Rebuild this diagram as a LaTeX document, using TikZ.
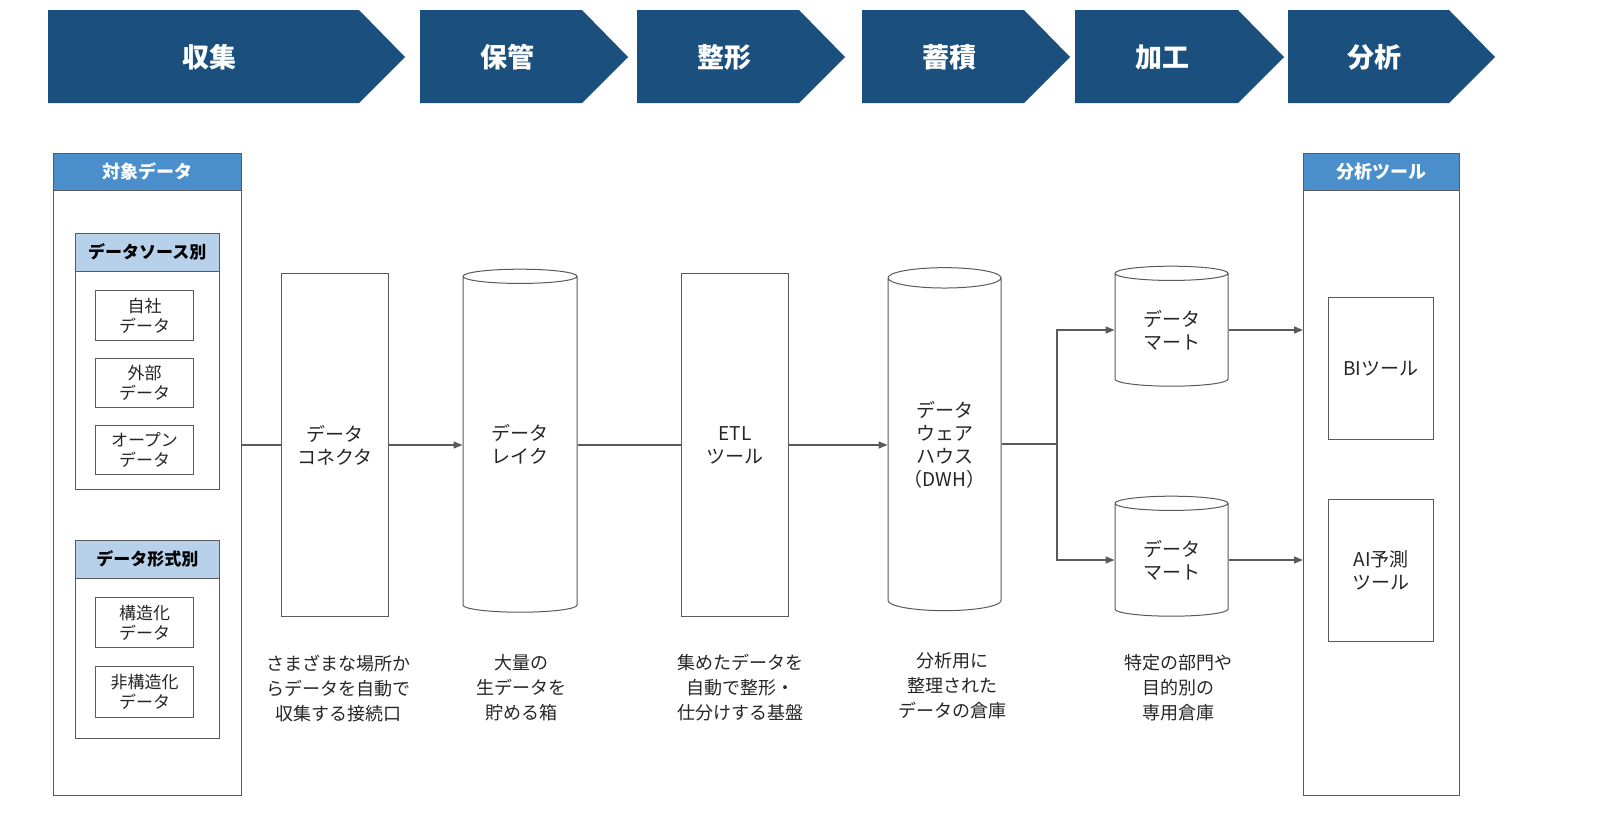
\documentclass[tikz,border=0pt]{standalone}
\usepackage{fontspec}
\setmainfont{Noto Sans CJK JP}
\usetikzlibrary{shapes.geometric,arrows.meta}
\definecolor{navy}{HTML}{1B4F7E}
\definecolor{hdr}{HTML}{4A8FCB}
\definecolor{sub}{HTML}{B7D1EA}
\definecolor{ln}{HTML}{5A5A5A}
\begin{document}
\begin{tikzpicture}[x=1pt,y=-1pt,
 chev/.style={fill=navy,draw=none},
 ctext/.style={text=white,font=\fontsize{27}{27}\selectfont\bfseries},
 box/.style={draw=ln,line width=1pt,fill=white},
 lbl/.style={font=\fontsize{19}{23}\selectfont,align=center,text=black!85},
 small/.style={font=\fontsize{17}{20}\selectfont,align=center,text=black!85},
 captxt/.style={font=\fontsize{18}{25}\selectfont,align=center,text=black!85},
 arr/.style={draw=ln,line width=1.5pt,-{Triangle[length=9pt,width=7pt]}},
 lin/.style={draw=ln,line width=1.5pt}]
\useasboundingbox (0,0) rectangle (1600,830);
\fill[white] (0,0) rectangle (1600,830);
% chevrons
\foreach \a/\b/\t/\n in {48/405/収集/c1,420/628/保管/c2,637/845/整形/c3,862/1070/蓄積/c4,1075/1284/加工/c5,1288/1495/分析/c6}{
 \fill[chev] (\a,10) -- ({\b-46},10) -- (\b,57) -- ({\b-46},103) -- (\a,103) -- cycle;
 \node[ctext] (\n) at ({(\a+\b-46)/2+6},57) {\t};
}
% left panel
\node[box,minimum width=188,minimum height=605,anchor=north west,inner sep=0] (lp) at (53,190) {};
\node[fill=hdr,draw=ln,line width=0.6pt,minimum width=188,minimum height=37,anchor=north west,inner sep=0,text=white,font=\fontsize{18}{18}\selectfont\bfseries] (lh) at (53,153) {対象データ};
\node[fill=sub,draw=ln,line width=0.6pt,minimum width=144,minimum height=38,anchor=north west,inner sep=0,font=\fontsize{17}{17}\selectfont\bfseries] (s1h) at (75,233) {データソース別};
\node[box,minimum width=144,minimum height=218,anchor=north west,inner sep=0] (s1) at (75,271) {};
\node[box,small,minimum width=98,minimum height=50,anchor=north west,inner sep=0] (b1) at (95,290) {自社\\データ};
\node[box,small,minimum width=98,minimum height=49,anchor=north west,inner sep=0] (b2) at (95,358) {外部\\データ};
\node[box,small,minimum width=98,minimum height=49,anchor=north west,inner sep=0] (b3) at (95,425) {オープン\\データ};
\node[fill=sub,draw=ln,line width=0.6pt,minimum width=144,minimum height=38,anchor=north west,inner sep=0,font=\fontsize{17}{17}\selectfont\bfseries] (s2h) at (75,540) {データ形式別};
\node[box,minimum width=144,minimum height=160,anchor=north west,inner sep=0] (s2) at (75,578) {};
\node[box,small,minimum width=98,minimum height=50,anchor=north west,inner sep=0] (b4) at (95,597) {構造化\\データ};
\node[box,small,minimum width=98,minimum height=51,anchor=north west,inner sep=0] (b5) at (95,666) {非構造化\\データ};
% right panel
\node[box,minimum width=156,minimum height=605,anchor=north west,inner sep=0] (rp) at (1303,190) {};
\node[fill=hdr,draw=ln,line width=0.6pt,minimum width=156,minimum height=37,anchor=north west,inner sep=0,text=white,font=\fontsize{18}{18}\selectfont\bfseries] (rh) at (1303,153) {分析ツール};
\node[box,lbl,minimum width=105,minimum height=142,anchor=north west,inner sep=0] (bi) at (1328,297) {BIツール};
\node[box,lbl,minimum width=105,minimum height=142,anchor=north west,inner sep=0] (ai) at (1328,499) {AI予測\\ツール};
% middle
\node[box,lbl,minimum width=107,minimum height=343,anchor=north west,inner sep=0] (con) at (281,273) {データ\\コネクタ};
\node[box,lbl,minimum width=107,minimum height=343,anchor=north west,inner sep=0] (etl) at (681,273) {ETL\\ツール};
\node[cylinder,shape border rotate=90,aspect=0.25,box,lbl,minimum width=114,minimum height=343,inner sep=0] (lake) at (520,444.5) {データ\\レイク};
\node[cylinder,shape border rotate=90,aspect=0.25,box,lbl,minimum width=113,minimum height=343,inner sep=0] (dwh) at (944.5,444.5) {データ\\ウェア\\ハウス\\（DWH）};
\node[cylinder,shape border rotate=90,aspect=0.25,box,lbl,minimum width=113,minimum height=120,inner sep=0] (m1) at (1171.5,330) {データ\\マート};
\node[cylinder,shape border rotate=90,aspect=0.25,box,lbl,minimum width=113,minimum height=120,inner sep=0] (m2) at (1171.5,560) {データ\\マート};
% connectors
\draw[lin] (lp.east|-con.west) -- (con.west);
\draw[arr] (con.east) -- (lake.west|-con.east);
\draw[lin] (lake.east|-etl.west) -- (etl.west);
\draw[arr] (etl.east) -- (dwh.west|-etl.east);
\coordinate (br) at (1057,444);
\draw[lin] (dwh.east|-br) -- (br);
\draw[arr] (br) |- (m1.west);
\draw[arr] (br) |- (m2.west);
\draw[arr] (m1.east) -- (rp.west|-m1.east);
\draw[arr] (m2.east) -- (rp.west|-m2.east);
% captions
\node[captxt] (t1) at (338,688) {さまざまな場所か\\らデータを自動で\\収集する接続口};
\node[captxt] (t2) at (521,688) {大量の\\生データを\\貯める箱};
\node[captxt] (t3) at (740,688) {集めたデータを\\自動で整形・\\仕分けする基盤};
\node[captxt] (t4) at (952,686) {分析用に\\整理された\\データの倉庫};
\node[captxt] (t5) at (1178,688) {特定の部門や\\目的別の\\専用倉庫};
\end{tikzpicture}
\end{document}
